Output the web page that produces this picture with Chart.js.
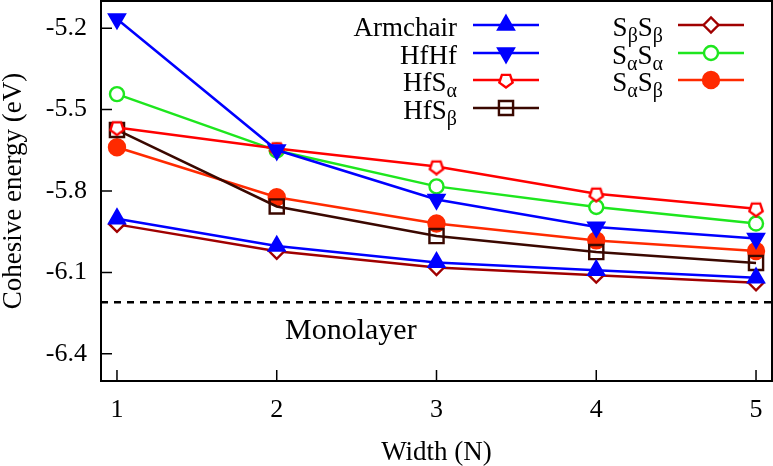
<!DOCTYPE html>
<html>
<head>
<meta charset="utf-8">
<script src="https://cdn.jsdelivr.net/npm/chart.js@4.4.1/dist/chart.umd.min.js"></script>
<style>
  html, body { margin: 0; padding: 0; background: #fff; }
</style>
</head>
<body>
<canvas id="energyChart" width="773" height="466"></canvas>
<script>
// cohesive energy (eV) vs ribbon width N
const widths = [1, 2, 3, 4, 5];
const armchair = [-5.902, -6.003, -6.063, -6.092, -6.120];
const hfHf = [-5.166, -5.649, -5.831, -5.933, -5.975];
const hfSa = [-5.566, -5.643, -5.710, -5.810, -5.865];
const hfSb = [-5.575, -5.857, -5.966, -6.025, -6.065];
const sbSb = [-5.923, -6.022, -6.082, -6.110, -6.138];
const saSa = [-5.443, -5.651, -5.783, -5.859, -5.920];
const saSb = [-5.639, -5.823, -5.920, -5.982, -6.021];
const monolayer = -6.21;
const yTicks = [-6.4, -6.1, -5.8, -5.5, -5.2];
const xTicks = [1, 2, 3, 4, 5];

const FONT = "'Liberation Serif', 'Times New Roman', serif";

// open pentagon, point down (gnuplot style)
function pentagon(color) {
  const c = document.createElement('canvas');
  c.width = 18; c.height = 18;
  const g = c.getContext('2d');
  g.strokeStyle = color;
  g.lineWidth = 2.4;
  g.fillStyle = '#fff';
  g.beginPath();
  for (let i = 0; i < 5; i++) {
    const a = Math.PI / 2 + i * 2 * Math.PI / 5;
    const px = 9 + 7 * Math.cos(a), py = 9.5 + 7 * Math.sin(a);
    if (i === 0) g.moveTo(px, py); else g.lineTo(px, py);
  }
  g.closePath();
  g.fill();
  g.stroke();
  return c;
}

function series(label, values, color, style, extra) {
  return Object.assign({
    label: label,
    data: widths.map((w, i) => ({x: w, y: values[i]})),
    borderColor: color,
    backgroundColor: color,
    pointBackgroundColor: color,
    pointBorderColor: color,
    borderWidth: 2.5,
    pointBorderWidth: 2.4,
    pointStyle: style,
    pointRadius: 8,
    pointHoverRadius: 8,
    fill: false,
    tension: 0
  }, extra || {});
}

const datasets = [
  series('Armchair', armchair, '#0000ff', 'triangle', {pointRadius: 9}),
  series('HfHf', hfHf, '#0000ff', 'triangle', {pointRadius: 9, pointRotation: 180}),
  series('HfS_α', hfSa, '#ff0000', pentagon('#ff0000')),
  series('HfS_β', hfSb, '#3a0800', 'rect', {pointRadius: 10, pointBackgroundColor: 'rgba(0,0,0,0)'}),
  series('S_βS_β', sbSb, '#a00000', 'rectRot', {pointRadius: 7.5, pointBackgroundColor: '#fff'}),
  series('S_αS_α', saSa, '#1ee61e', 'circle', {pointRadius: 7, pointBackgroundColor: '#fff'}),
  series('S_αS_β', saSb, '#ff2a00', 'circle', {pointRadius: 8})
];

// text with "_x" meaning subscript x
function drawLabel(ctx, text, xRight, baseY) {
  const parts = [];
  for (let i = 0; i < text.length; i++) {
    if (text[i] === '_') { parts.push({t: text[i + 1], sub: true}); i++; }
    else parts.push({t: text[i], sub: false});
  }
  const big = '27px ' + FONT, small = '20px ' + FONT;
  let total = 0;
  parts.forEach(p => { ctx.font = p.sub ? small : big; p.w = ctx.measureText(p.t).width; total += p.w; });
  let x = xRight - total;
  ctx.textAlign = 'left';
  ctx.textBaseline = 'alphabetic';
  parts.forEach(p => {
    ctx.font = p.sub ? small : big;
    ctx.fillText(p.t, x, p.sub ? baseY + 6 : baseY);
    x += p.w;
  });
}

const decor = {
  id: 'decor',
  afterDatasetsDraw(chart) {
    const ctx = chart.ctx;
    const a = chart.chartArea;
    const xs = chart.scales.x, ys = chart.scales.y;
    ctx.save();
    ctx.fillStyle = '#000';
    ctx.strokeStyle = '#000';

    // monolayer reference
    const ym = ys.getPixelForValue(monolayer);
    ctx.lineWidth = 2.5;
    ctx.setLineDash([7, 6]);
    ctx.beginPath();
    ctx.moveTo(a.left, ym);
    ctx.lineTo(a.right, ym);
    ctx.stroke();
    ctx.setLineDash([]);
    ctx.font = '30px ' + FONT;
    ctx.textAlign = 'left';
    ctx.textBaseline = 'alphabetic';
    ctx.fillText('Monolayer', 285, ym + 37);

    // frame and inward ticks
    ctx.lineWidth = 2;
    ctx.strokeRect(a.left, a.top, a.right - a.left, a.bottom - a.top);
    ctx.lineWidth = 1.5;
    ctx.beginPath();
    yTicks.forEach(v => {
      const p = ys.getPixelForValue(v);
      ctx.moveTo(a.left, p); ctx.lineTo(a.left + 11, p);
    });
    xTicks.forEach(v => {
      const p = xs.getPixelForValue(v);
      ctx.moveTo(p, a.bottom); ctx.lineTo(p, a.bottom - 11);
    });
    ctx.stroke();

    // key, two columns
    const cols = [
      {textX: 457, x0: 473, x1: 539, items: [0, 1, 2, 3]},
      {textX: 663, x0: 678, x1: 744, items: [4, 5, 6]}
    ];
    const rows = [25, 53, 80, 108];
    cols.forEach(col => {
      col.items.forEach((di, r) => {
        const ds = chart.data.datasets[di];
        const y = rows[r];
        ctx.fillStyle = '#000';
        drawLabel(ctx, ds.label, col.textX, y + 11);
        ctx.strokeStyle = ds.borderColor;
        ctx.lineWidth = 2.5;
        ctx.beginPath();
        ctx.moveTo(col.x0, y); ctx.lineTo(col.x1, y);
        ctx.stroke();
        ctx.fillStyle = ds.pointBackgroundColor;
        ctx.lineWidth = ds.pointBorderWidth;
        Chart.helpers.drawPoint(ctx, {
          pointStyle: ds.pointStyle,
          rotation: ds.pointRotation || 0,
          radius: ds.pointRadius,
          borderWidth: ds.pointBorderWidth
        }, (col.x0 + col.x1) / 2, y);
      });
    });
    ctx.restore();
  }
};

new Chart(document.getElementById('energyChart'), {
  type: 'line',
  data: { datasets: datasets },
  plugins: [decor],
  options: {
    responsive: false,
    devicePixelRatio: 1,
    animation: false,
    events: [],
    layout: { autoPadding: false, padding: { top: 1, right: 1, left: 0, bottom: 0 } },
    plugins: {
      legend: { display: false },
      tooltip: { enabled: false }
    },
    scales: {
      x: {
        type: 'linear',
        min: 0.9,
        max: 5.1,
        afterBuildTicks: s => { s.ticks = xTicks.map(v => ({value: v})); },
        afterFit: s => { s.height = 85; s.paddingLeft = 0; s.paddingRight = 0; },
        grid: { display: false, drawTicks: false },
        border: { display: false },
        ticks: { color: '#000', font: { family: FONT, size: 26 }, padding: 14, maxRotation: 0 },
        title: { display: true, text: 'Width (N)', color: '#000', font: { family: FONT, size: 27, lineHeight: 1 }, padding: { top: 0, bottom: 0 } }
      },
      y: {
        min: -6.5,
        max: -5.1,
        afterBuildTicks: s => { s.ticks = yTicks.map(v => ({value: v})); },
        afterFit: s => { s.width = 101; s.paddingTop = 0; s.paddingBottom = 0; },
        grid: { display: false, drawTicks: false },
        border: { display: false },
        ticks: { color: '#000', font: { family: FONT, size: 26 }, padding: 14, callback: v => v.toFixed(1) },
        title: { display: true, text: 'Cohesive energy (eV)', color: '#000', font: { family: FONT, size: 27, lineHeight: 1 }, padding: 0 }
      }
    }
  }
});
</script>
</body>
</html>
